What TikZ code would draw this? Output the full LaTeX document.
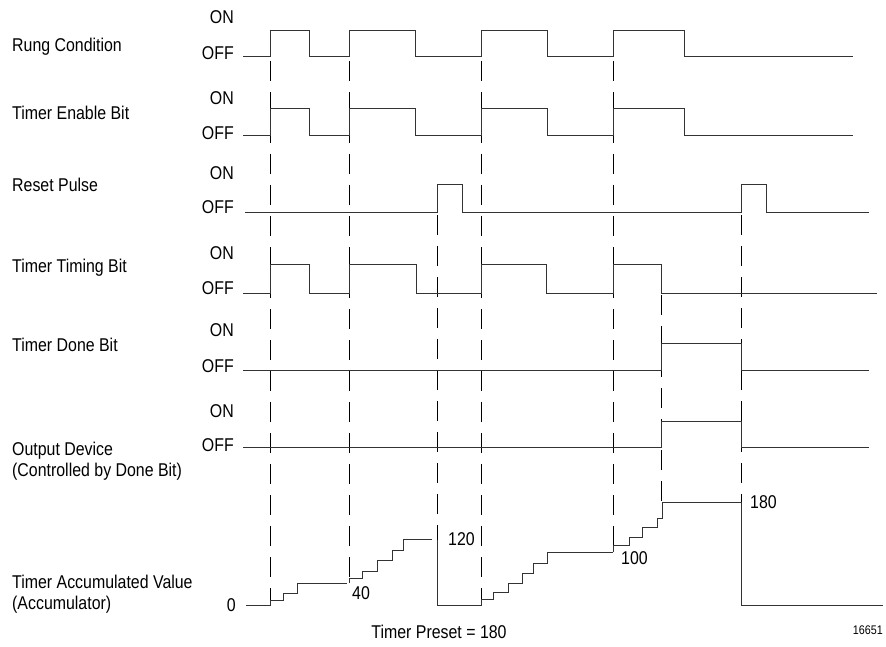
\documentclass[tikz,border=0pt]{standalone}
\usepackage{fontspec}
\setmainfont{Liberation Sans}[FakeStretch=0.86]
\usetikzlibrary{positioning}

\begin{document}
\begin{tikzpicture}[
    x=1pt, y=-1pt,
    font=\fontsize{18.5}{20.5}\selectfont,
    sig/.style={line width=0.9pt, black!80, line join=miter},
    guide/.style={line width=0.8pt, black, dash pattern=on 20pt off 11pt},
    rowname/.style={anchor=west, align=left, inner sep=0pt},
    lvl/.style={anchor=east, inner sep=0pt},
    val/.style={anchor=west, inner sep=1pt},
  ]
  \useasboundingbox (0,0) rectangle (886,647);

  % --- row names and ON/OFF levels ----------------------------------------------
  \node[rowname] (rung)   at (12,47)  {Rung Condition};
  \node[rowname] (enable) at (12,113) {Timer Enable Bit};
  \node[rowname] (reset)  at (12,185) {Reset Pulse};
  \node[rowname] (timing) at (12,268) {Timer Timing Bit};
  \node[rowname] (done)   at (12,345) {Timer Done Bit};
  \node[rowname] (output) at (12,461) {Output Device\\(Controlled by Done Bit)};
  \node[rowname] (accum)  at (12,594) {Timer Accumulated Value\\(Accumulator)};

  \node[lvl] (rungon)    at (234,17)  {ON};
  \node[lvl] (rungoff)   at (234,53)  {OFF};
  \node[lvl] (enableon)  at (234,98)  {ON};
  \node[lvl] (enableoff) at (234,133) {OFF};
  \node[lvl] (reseton)   at (234,173) {ON};
  \node[lvl] (resetoff)  at (234,207) {OFF};
  \node[lvl] (timingon)  at (234,253) {ON};
  \node[lvl] (timingoff) at (234,288) {OFF};
  \node[lvl] (doneon)    at (234,330) {ON};
  \node[lvl] (doneoff)   at (234,366) {OFF};
  \node[lvl] (outputon)  at (234,411) {ON};
  \node[lvl] (outputoff) at (234,445) {OFF};
  \node[lvl] (zero)      at (236,605) {0};

  % --- dashed event guides -------------------------------------------------------
  \draw[guide] (270,30) -- (270,605);
  \draw[guide] (349,30) -- (349,583);
  \draw[guide] (437,184) -- (437,540);
  \draw[guide] (481,30) -- (481,605);
  \draw[guide] (613,30) -- (613,552);
  \draw[guide] (661,264) -- (661,502);
  \draw[guide] (741,184) -- (741,502);

  % --- bit waveforms ---------------------------------------------------------------
  \draw[sig] (243,56) -- (270,56) -- (270,30) -- (309,30) -- (309,56) -- (349,56)
    -- (349,30) -- (415,30) -- (415,56) -- (481,56) -- (481,30) -- (547,30)
    -- (547,56) -- (613,56) -- (613,30) -- (684,30) -- (684,56) -- (853,56);
  \draw[sig] (243,135) -- (270,135) -- (270,108) -- (309,108) -- (309,135) -- (349,135)
    -- (349,108) -- (415,108) -- (415,135) -- (481,135) -- (481,108) -- (547,108)
    -- (547,135) -- (613,135) -- (613,108) -- (684,108) -- (684,135) -- (853,135);
  \draw[sig] (245,212) -- (437,212) -- (437,184) -- (462,184) -- (462,212)
    -- (741,212) -- (741,184) -- (766,184) -- (766,212) -- (869,212);
  \draw[sig] (243,293) -- (270,293) -- (270,264) -- (309,264) -- (309,293) -- (349,293)
    -- (349,264) -- (416,264) -- (416,293) -- (481,293) -- (481,264) -- (546,264)
    -- (546,293) -- (613,293) -- (613,264) -- (661,264) -- (661,293) -- (877,293);
  \draw[sig] (243,370) -- (661,370) -- (661,343) -- (741,343) -- (741,370) -- (869,370);
  \draw[sig] (243,447) -- (661,447) -- (661,421) -- (741,421) -- (741,447) -- (869,447);

  % --- accumulated value staircase -------------------------------------------------
  \draw[sig] (246,605) -- (270,605) -- (270,600) -- (283,600) -- (283,593) -- (297,593)
    -- (297,583) -- (347,583);
  \draw[sig] (349,583) -- (349,578) -- (362,578) -- (362,571) -- (377,571) -- (377,560)
    -- (392,560) -- (392,550) -- (403,550) -- (403,539) -- (432,539);
  \draw[sig] (437,540) -- (437,605) -- (481,605) -- (481,599) -- (493,599) -- (493,592)
    -- (508,592) -- (508,583) -- (522,583) -- (522,573) -- (533,573) -- (533,563)
    -- (547,563) -- (547,552) -- (613,552);
  \draw[sig] (613,552) -- (613,545) -- (629,545) -- (629,537) -- (642,537) -- (642,527)
    -- (657,527) -- (657,518) -- (662,518) -- (662,502) -- (741,502) -- (741,605)
    -- (883,605);

  \node[val] (v40)  at (351,593) {40};
  \node[val] (v120) at (447,539) {120};
  \node[val] (v100) at (620,558) {100};
  \node[val] (v180) at (749,502) {180};

  \node (preset) at (439,632) {Timer Preset = 180};
  \node[anchor=east, inner sep=0pt, font=\fontsize{12.5}{14}\selectfont] (fig) at (883,630) {16651};
\end{tikzpicture}
\end{document}
